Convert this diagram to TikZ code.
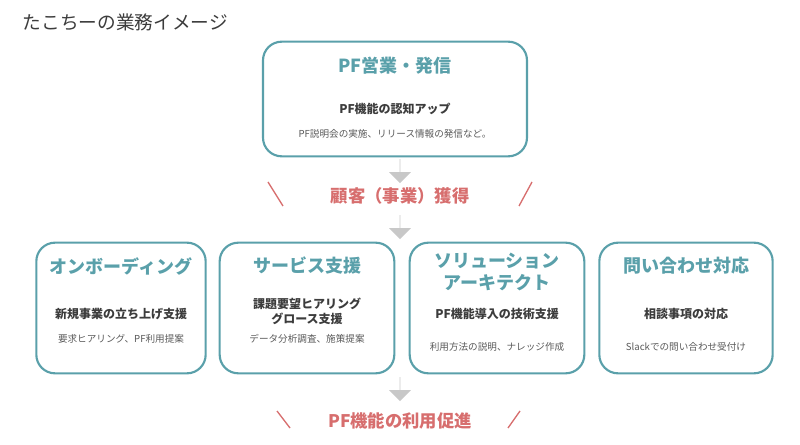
\documentclass[tikz,border=0pt]{standalone}
\usepackage{fontspec}
\setmainfont{Noto Sans CJK JP}
\usetikzlibrary{shapes.arrows}
\definecolor{tealline}{RGB}{90,160,170}
\definecolor{rose}{RGB}{215,110,110}
\definecolor{txt}{RGB}{60,60,60}
\definecolor{arr}{RGB}{200,200,200}
\tikzset{
  box/.style={draw=tealline,line width=1.6pt,rounded corners=14pt,minimum width=#1,minimum height=98pt},
  head/.style={text=tealline,font=\bfseries\fontsize{13.5}{16}\selectfont,align=center},
  sub/.style={text=txt,font=\bfseries\fontsize{9}{11}\selectfont,align=center},
  note/.style={text=txt!85,font=\fontsize{7.2}{9}\selectfont},
  down/.style={single arrow,draw=none,fill=arr,shape border rotate=270,minimum height=18pt,inner sep=0pt,minimum width=15pt,single arrow head extend=8pt,single arrow head indent=0pt},
  goal/.style={text=rose,font=\bfseries\fontsize{13}{15}\selectfont},
  slash/.style={draw=rose,line width=1pt}
}
\begin{document}
\begin{tikzpicture}[x=0.75pt,y=-0.75pt]
\useasboundingbox (0,0) rectangle (800,445);
\node[anchor=west,text=txt,font=\fontsize{14}{16}\selectfont] (title) at (18,22) {たこちーの業務イメージ};
% top
\node[box=198pt,minimum height=86pt] (pf) at (395,99) {};
\node[head] at (395,66) {PF営業・発信};
\node[sub] at (395,109) {PF機能の認知アップ};
\node[note] at (395,134) {PF説明会の実施、リリース情報の発信など。};
\node[down] (a1) at (400,171) {};
\node[goal] (g1) at (400,196) {顧客（事業）獲得};
\draw[slash] (268,182) -- (283,206);
\draw[slash] (532,182) -- (519,206);
\node[down] (a2) at (400,227) {};
% four boxes
\node[box=127pt] (b1) at (121,308) {};
\node[head] at (121,266) {オンボーディング};
\node[sub] at (121,314) {新規事業の立ち上げ支援};
\node[note] at (121,339) {要求ヒアリング、PF利用提案};
\node[box=131pt] (b2) at (307,308) {};
\node[head] at (307,266) {サービス支援};
\node[sub] at (307,311) {課題要望ヒアリング\\グロース支援};
\node[note] at (307,339) {データ分析調査、施策提案};
\node[box=131pt] (b3) at (497,308) {};
\node[head] at (497,272) {ソリューション\\アーキテクト};
\node[sub] at (497,314) {PF機能導入の技術支援};
\node[note] at (497,347) {利用方法の説明、ナレッジ作成};
\node[box=130pt] (b4) at (686,308) {};
\node[head] at (686,266) {問い合わせ対応};
\node[sub] at (686,314) {相談事項の対応};
\node[note] at (686,347) {Slackでの問い合わせ受付け};
\node[down] (a3) at (400,389) {};
\node[goal] (g2) at (400,421) {PF機能の利用促進};
\draw[slash] (277,411) -- (290,428);
\draw[slash] (520,411) -- (508,428);
\end{tikzpicture}
\end{document}
